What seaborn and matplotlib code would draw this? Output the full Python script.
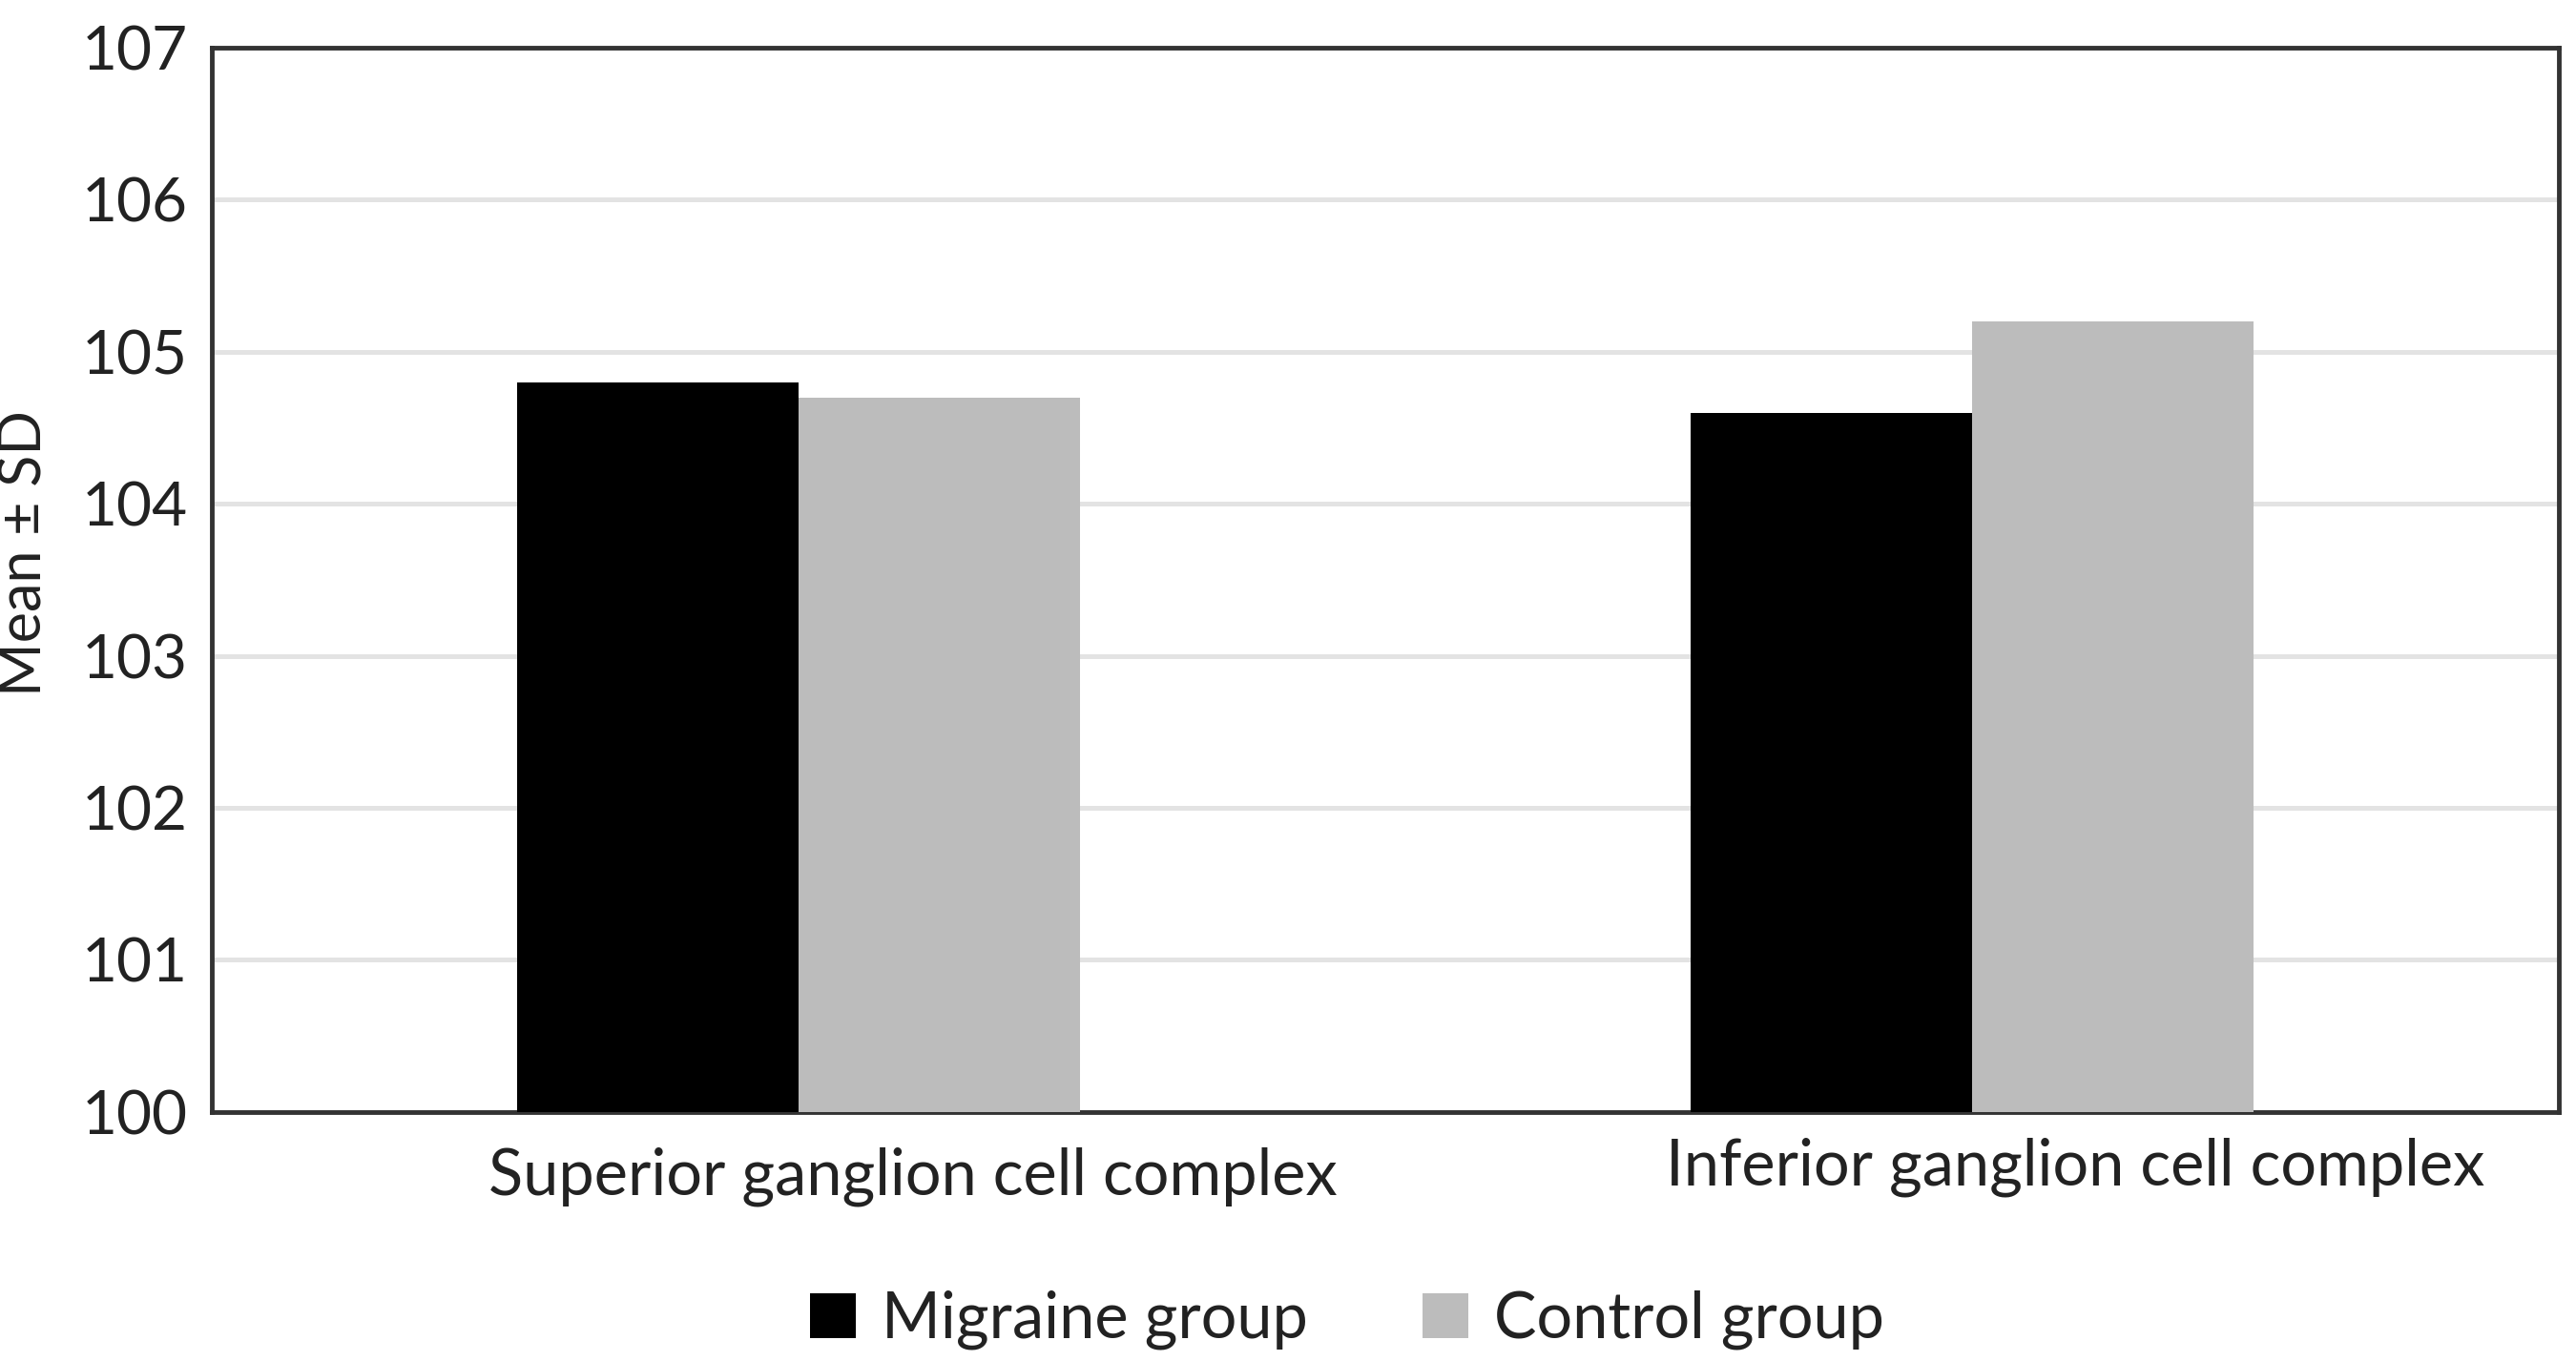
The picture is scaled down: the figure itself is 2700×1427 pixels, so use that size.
import numpy as np
import pandas as pd
import seaborn as sns
import matplotlib.pyplot as plt
import matplotlib.transforms as mtransforms
from matplotlib.patches import Patch

# values
categories = ["Superior ganglion cell complex", "Inferior ganglion cell complex"]
groups = ["Migraine group", "Control group"]
migraine = [104.8, 104.6]
control = [104.7, 105.2]
y_ticks = [100, 101, 102, 103, 104, 105, 106, 107]

df = pd.DataFrame({
    "category": categories * 2,
    "group": [groups[0]] * 2 + [groups[1]] * 2,
    "value": migraine + control,
})

sns.set_style("white")
plt.rcParams['font.family'] = ['Lato', 'DejaVu Sans']
colors = {"Migraine group": "#000000", "Control group": "#bcbcbc"}

fig = plt.figure(figsize=(27, 14.27), dpi=100)
ax = fig.add_axes([0.0822, 0.183, 0.9111, 0.782])

sns.barplot(data=df, x="category", y="value", hue="group", palette=colors,
            width=0.48, gap=0, saturation=1, linewidth=0, ax=ax, legend=False, zorder=3)

ax.set_ylim(100, 107)
ax.set_xlim(-0.5, 1.5)
ax.set_yticks(y_ticks)
ax.yaxis.grid(True, color="#e3e3e3", linewidth=3.6, zorder=0)
ax.set_axisbelow(True)
for s in ax.spines.values():
    s.set_visible(True)
    s.set_color("#333333")
    s.set_linewidth(3.5)

ax.tick_params(axis="y", length=0, pad=18, labelsize=46, labelcolor="#222222")
ax.tick_params(axis="x", length=0, pad=22, labelsize=48, labelcolor="#222222")
ax.set_xlabel("")
ax.set_ylabel("Mean ± SD", fontsize=44, color="#222222")
ax.yaxis.set_label_coords(-0.068, 0.525)

# the category labels sit a bit right of the bar groups in the original
shifts = [(120, -6), (108, 4)]
for lab, (dx, dy) in zip(ax.get_xticklabels(), shifts):
    lab.set_transform(lab.get_transform() + mtransforms.ScaledTranslation(dx / 100, dy / 100, fig.dpi_scale_trans))

handles = [Patch(facecolor=colors[g], edgecolor="none") for g in groups]
fig.legend(handles, groups, loc="center", bbox_to_anchor=(0.523, 0.03), ncol=2,
           frameon=False, fontsize=48, handlelength=0.72, handleheight=0.72,
           handletextpad=0.4, columnspacing=1.8, labelcolor="#222222")

fig.savefig("out.png", dpi=100)
